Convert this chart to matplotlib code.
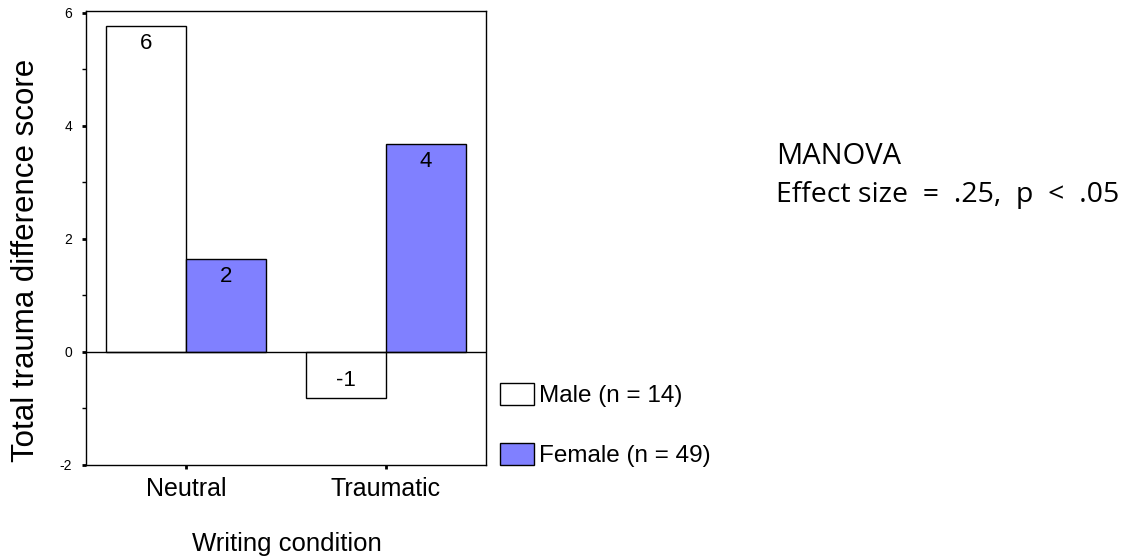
import numpy as np
import matplotlib.pyplot as plt
from matplotlib.patches import Patch
from matplotlib.ticker import MultipleLocator

conditions = ["Neutral", "Traumatic"]
male = [5.77, -0.81]
female = [1.65, 3.68]
male_labels = ["6", "-1"]
female_labels = ["2", "4"]
groups = ["Male (n = 14)", "Female (n = 49)"]

plt.rcParams['font.family'] = ['Liberation Sans', 'DejaVu Sans']
plt.rcParams['axes.unicode_minus'] = False

fig = plt.figure(figsize=(11.37, 5.58), dpi=100)
ax = fig.add_axes([0.0756, 0.1667, 0.3518, 0.8136])

x = np.arange(len(conditions))
w = 0.4
b1 = ax.bar(x - w/2, male, w, color="white", edgecolor="black", linewidth=1)
b2 = ax.bar(x + w/2, female, w, color="#8080ff", edgecolor="black", linewidth=1)

for bars, labels in [(b1, male_labels), (b2, female_labels)]:
    for rect, lab in zip(bars, labels):
        h = rect.get_height()
        cx = rect.get_x() + rect.get_width() / 2
        if h >= 0:
            ax.annotate(lab, (cx, h), xytext=(0, -5), textcoords="offset points",
                        ha="center", va="top", fontsize=16)
        else:
            ax.annotate(lab, (cx, h / 2), xytext=(0, -4), textcoords="offset points",
                        ha="center", va="center", fontsize=16)

ax.axhline(0, color="black", linewidth=1)

ax.set_xlim(-0.5, 1.5)
ax.set_ylim(-2, 6.03)
ax.set_xticks(x)
ax.set_xticklabels(conditions, fontsize=18)
ax.set_yticks([-2, 0, 2, 4, 6])
ax.yaxis.set_minor_locator(MultipleLocator(1))
ax.tick_params(axis="y", which="major", length=3, width=2, labelsize=10, pad=7)
ax.tick_params(axis="y", which="minor", length=3, width=1)
ax.tick_params(axis="x", which="major", length=3, width=2, pad=6)
for s in ax.spines.values():
    s.set_linewidth(1)

fig.text(26/1137, 1 - 260/558, "Total trauma difference score", rotation=90,
         ha="center", va="center", fontsize=22.5)
fig.text(287/1137, 1 - 544/558, "Writing condition", ha="center", va="center",
         fontsize=18.5)

# legend drawn beside the axes
handles = [Patch(facecolor="white", edgecolor="black"),
           Patch(facecolor="#8080ff", edgecolor="black")]
fig.legend(handles, groups, loc="upper left", bbox_to_anchor=(490/1137, 1 - 373/558),
           frameon=False, fontsize=17.5, handlelength=1.4, handleheight=1.05,
           handletextpad=0.2, labelspacing=1.45, borderaxespad=0)

fig.text(776/1137, 1 - 164/558, "MANOVA", ha="left", va="baseline",
         fontsize=21, family=["Open Sans", "DejaVu Sans"])
fig.text(776/1137, 1 - 202/558, "Effect size  =  .25,  p  <  .05", ha="left",
         va="baseline", fontsize=20.5, family=["Open Sans", "DejaVu Sans"])

fig.savefig("out.png", dpi=100)
